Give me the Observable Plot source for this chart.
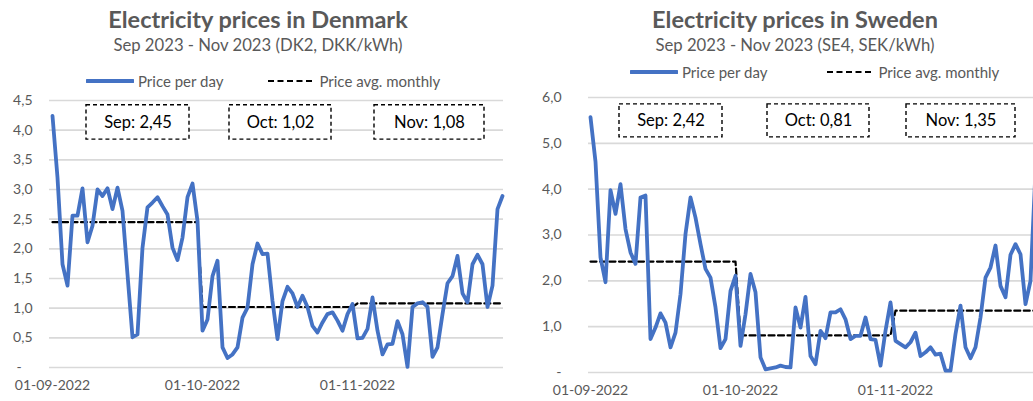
<!DOCTYPE html>
<html><head><meta charset="utf-8">
<script src="https://cdn.jsdelivr.net/npm/d3@7"></script>
<script src="https://cdn.jsdelivr.net/npm/@observablehq/plot@0.6"></script>
<style>
html,body{margin:0;padding:0;width:1033px;height:401px;overflow:hidden;background:#fff;font-family:Lato,"Open Sans",sans-serif;}
.abs{position:absolute;}
.title{font-weight:bold;font-size:23.5px;color:#595959;text-align:center;line-height:26px;white-space:nowrap;}
.sub{font-size:16.7px;color:#595959;text-align:center;line-height:20px;white-space:nowrap;}
.legend{display:flex;align-items:center;font-size:15px;color:#595959;white-space:nowrap;height:18px;}
.legend .item{display:flex;align-items:center;}
.legend svg{display:block;}
</style></head>
<body>
<script>
// ---- data ----
const startDate = new Date(Date.UTC(2022, 8, 1));
const endDate = new Date(Date.UTC(2022, 11, 1));
const months = ["Sep", "Oct", "Nov"];
const xTickLabels = ["01-09-2022", "01-10-2022", "01-11-2022"];
const seriesNames = ["Price per day", "Price avg. monthly"];

const dkTitle = "Electricity prices in Denmark";
const dkSubtitle = "Sep 2023 - Nov 2023 (DK2, DKK/kWh)";
const dkPrices = [4.24,3.2,1.74,1.38,2.56,2.56,3.02,2.11,2.39,3.0,
2.89,3.02,2.67,3.03,2.64,1.57,0.51,0.56,2.02,2.7,
2.78,2.87,2.72,2.58,2.02,1.81,2.19,2.87,3.1,2.47,
0.62,0.81,1.54,1.8,0.34,0.16,0.22,0.34,0.84,1.01,
1.74,2.09,1.91,1.92,1.12,0.48,1.12,1.36,1.25,1.02,
1.21,1.02,0.70,0.59,0.76,0.90,0.93,0.79,0.62,0.9,1.07,
0.49,0.5,0.65,1.18,0.62,0.22,0.39,0.4,0.78,0.56,
0.01,1.02,1.08,1.1,1.02,0.18,0.34,0.9,1.42,1.54,
1.88,1.25,1.1,1.74,1.9,1.74,1.02,1.38,2.67,2.89];
const dkAvg = [2.45, 1.02, 1.08];
const dkYTicks = [0, 0.5, 1, 1.5, 2, 2.5, 3, 3.5, 4, 4.5];

const seTitle = "Electricity prices in Sweden";
const seSubtitle = "Sep 2023 - Nov 2023 (SE4, SEK/kWh)";
const sePrices = [5.57,4.6,2.51,1.97,3.98,3.46,4.11,3.13,2.62,2.37,
3.82,3.86,0.73,0.98,1.29,1.09,0.55,0.87,1.71,3.02,
3.82,3.38,2.8,2.26,2.07,1.42,0.53,0.73,1.78,2.11,
0.58,1.27,2.15,1.75,0.33,0.07,0.09,0.11,0.15,0.12,
0.11,1.42,0.98,1.65,0.36,0.18,0.91,0.75,1.31,1.31,
1.38,1.16,0.73,0.8,0.8,1.2,0.73,0.71,0.15,0.91,1.53,
0.69,0.62,0.55,0.66,0.87,0.36,0.44,0.55,0.39,0.41,
0.04,0.04,0.84,1.46,0.55,0.31,0.55,1.2,2.07,2.29,
2.77,1.89,1.64,2.57,2.8,2.58,1.49,2.0,4.4,3.5];
const seAvg = [2.42, 0.81, 1.35];
const seYTicks = [0, 1, 2, 3, 4, 5, 6];

// ---- helpers ----
const DAY = 864e5;
const dayOff = d => new Date(startDate.getTime() + d * DAY);
const dates = d3.utcDay.range(startDate, endDate);
const tickDates = d3.utcMonth.range(startDate, endDate);
const fmtNum = v => v.toFixed(1).replace(".", ",");

function chart(cfg) {
  const rows = dates.map((d, i) => ({
    date: d, price: cfg.prices[i], avg: cfg.avg[d.getUTCMonth() - 8]
  }));
  const boxes = months.map((m, i) => ({
    x1: dayOff(cfg.boxDays[i][0]), x2: dayOff(cfg.boxDays[i][1]),
    xm: dayOff((cfg.boxDays[i][0] + cfg.boxDays[i][1]) / 2),
    label: `${m}: ${cfg.avg[i].toFixed(2).replace(".", ",")}`
  }));
  const [yb0, yb1] = cfg.boxY;
  const plot = Plot.plot({
    width: cfg.width, height: cfg.height,
    marginTop: cfg.mt, marginBottom: cfg.mb, marginLeft: cfg.ml, marginRight: cfg.mr,
    style: {fontFamily: "Lato, 'Open Sans', sans-serif", fontSize: "14px", color: "#595959", background: "transparent", overflow: "visible"},
    x: {type: "utc", domain: [dayOff(cfg.xd[0]), dayOff(cfg.xd[1])], ticks: tickDates,
        tickFormat: (d) => xTickLabels[tickDates.findIndex(t => +t === +d)], tickSize: 0, tickPadding: 13, label: null},
    y: {domain: [0, cfg.yTicks[cfg.yTicks.length - 1]], ticks: cfg.yTicks, tickSize: 0, tickPadding: cfg.ytp,
        tickFormat: v => v === 0 ? cfg.zero : fmtNum(v), label: null},
    marks: [
      Plot.ruleY(cfg.yTicks, {stroke: "#d9d9d9", strokeWidth: 1.6}),
      Plot.lineY(rows, {x: "date", y: "avg", stroke: "#000", strokeWidth: 2.2, strokeDasharray: "6,3.5"}),
      Plot.lineY(rows, {x: "date", y: "price", stroke: "#4472C4", strokeWidth: 3.8, strokeLinejoin: "round", strokeLinecap: "round"}),
      Plot.rect(boxes, {x1: "x1", x2: "x2", y1: yb0, y2: yb1, fill: "white", stroke: "#000", strokeWidth: 1.4, strokeDasharray: "4,3"}),
      Plot.text(boxes, {x: "xm", y: (yb0 + yb1) / 2, text: "label", fill: "#000", fontSize: 16.5})
    ]
  });
  const wrap = document.createElement("div");
  wrap.className = "abs";
  wrap.style.left = cfg.left + "px"; wrap.style.top = "0px";
  wrap.style.width = cfg.width + "px"; wrap.style.height = "401px";
  document.body.appendChild(wrap);

  const t = document.createElement("div");
  t.className = "abs title"; t.textContent = cfg.title;
  t.style.left = "0px"; t.style.width = cfg.titleW + "px"; t.style.top = "6px";
  wrap.appendChild(t);
  const s = document.createElement("div");
  s.className = "abs sub"; s.textContent = cfg.subtitle;
  s.style.left = "0px"; s.style.width = cfg.titleW + "px"; s.style.top = "35px";
  wrap.appendChild(s);

  const lg = document.createElement("div");
  lg.className = "abs legend";
  lg.style.left = cfg.legX + "px"; lg.style.top = (cfg.legY - 9) + "px";
  seriesNames.forEach((name, i) => {
    const it = document.createElement("div");
    it.className = "item";
    if (i > 0) it.style.marginLeft = cfg.legGap + "px";
    const sw = 48;
    const dash = i === 0 ? "" : `stroke-dasharray="6,3.5"`;
    const col = i === 0 ? "#4472C4" : "#000";
    const w = i === 0 ? 3.8 : 2.2;
    it.innerHTML = `<svg width="${sw}" height="10"><line x1="1" x2="${sw - 1}" y1="5" y2="5" stroke="${col}" stroke-width="${w}" stroke-linecap="${i===0?'round':'butt'}" ${dash}/></svg><span style="margin-left:4px">${name}</span>`;
    lg.appendChild(it);
  });
  wrap.appendChild(lg);

  plot.style.position = "absolute";
  plot.style.left = "0px"; plot.style.top = cfg.top + "px";
  wrap.appendChild(plot);
}

chart({
  left: 0, top: 90, width: 520, height: 310, mt: 10, mb: 33, ml: 49, mr: 17,
  xd: [-0.6, 90.2], prices: dkPrices, avg: dkAvg, yTicks: dkYTicks, ytp: 17,
  zero: "-\u00a0\u00a0\u00a0", title: dkTitle, subtitle: dkSubtitle, titleW: 516,
  legX: 86, legY: 81, legGap: 44,
  boxDays: [[6.8, 27.4], [35.4, 55.8], [64.4, 86.4]], boxY: [3.84, 4.42]
});
chart({
  left: 520, top: 87, width: 538, height: 318, mt: 10, mb: 33, ml: 68, mr: 17,
  xd: [-0.4, 90.2], prices: sePrices, avg: seAvg, yTicks: seYTicks, ytp: 27,
  zero: "-", title: seTitle, subtitle: seSubtitle, titleW: 550,
  legX: 110, legY: 72, legGap: 59,
  boxDays: [[5.8, 26.4], [35.4, 55.8], [63.2, 85]], boxY: [5.13, 5.85]
});
</script>
</body></html>
